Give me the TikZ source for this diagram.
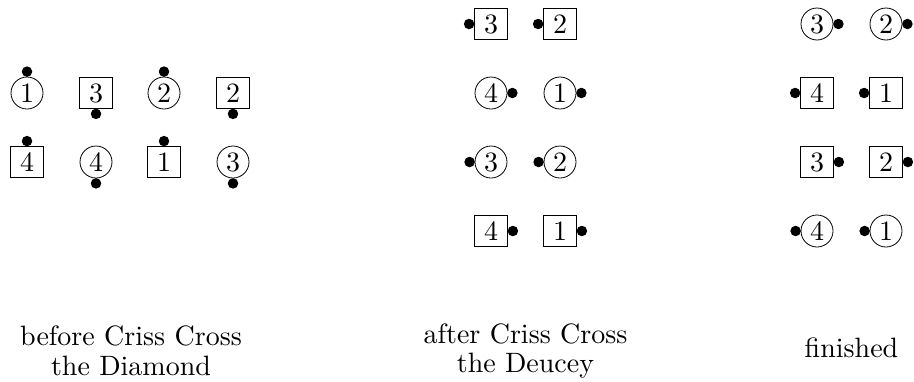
\documentclass[tikz,border=0pt]{standalone}
\usepackage{fontspec}
\setmainfont{lmroman10-regular.otf}
\begin{document}
\begin{tikzpicture}[x=1pt,y=-1pt,
  cnode/.style={circle, draw, line width=0.8pt, minimum size=32pt, inner sep=0pt, font=\fontsize{28}{34}\selectfont},
  snode/.style={rectangle, draw, line width=0.8pt, minimum width=33pt, minimum height=31pt, inner sep=0pt, font=\fontsize{28}{34}\selectfont},
  dotmark/.style={circle, fill=black, inner sep=0pt, minimum size=10.5pt},
  lbl/.style={anchor=base, inner sep=0pt, font=\fontsize{28}{34}\selectfont}]
\useasboundingbox (0,0) rectangle (914,381);
% before
\node[cnode] (L1) at (27,93) {1};
\node[snode] (L2) at (96,93) {3};
\node[cnode] (L3) at (164,93) {2};
\node[snode] (L4) at (233,93) {2};
\node[snode] (L5) at (27,162) {4};
\node[cnode] (L6) at (96,162) {4};
\node[snode] (L7) at (164,162) {1};
\node[cnode] (L8) at (233,162) {3};
\node[dotmark] (dL1) at ([yshift=5pt]L1.north) {};
\node[dotmark] (dL2) at ([yshift=-5pt]L2.south) {};
\node[dotmark] (dL3) at ([yshift=5pt]L3.north) {};
\node[dotmark] (dL4) at ([yshift=-5pt]L4.south) {};
\node[dotmark] (dL5) at ([yshift=5pt]L5.north) {};
\node[dotmark] (dL6) at ([yshift=-5pt]L6.south) {};
\node[dotmark] (dL7) at ([yshift=5pt]L7.north) {};
\node[dotmark] (dL8) at ([yshift=-5pt]L8.south) {};
% after
\node[snode] (M1) at (491,24) {3};
\node[snode] (M2) at (560,24) {2};
\node[cnode] (M3) at (491,93) {4};
\node[cnode] (M4) at (560,93) {1};
\node[cnode] (M5) at (491,162) {3};
\node[cnode] (M6) at (560,162) {2};
\node[snode] (M7) at (491,231) {4};
\node[snode] (M8) at (560,231) {1};
\node[dotmark] (dM1) at ([xshift=-5pt]M1.west) {};
\node[dotmark] (dM2) at ([xshift=-5pt]M2.west) {};
\node[dotmark] (dM3) at ([xshift=5pt]M3.east) {};
\node[dotmark] (dM4) at ([xshift=5pt]M4.east) {};
\node[dotmark] (dM5) at ([xshift=-5pt]M5.west) {};
\node[dotmark] (dM6) at ([xshift=-5pt]M6.west) {};
\node[dotmark] (dM7) at ([xshift=5pt]M7.east) {};
\node[dotmark] (dM8) at ([xshift=5pt]M8.east) {};
% finished
\node[cnode] (R1) at (817,24) {3};
\node[cnode] (R2) at (886,24) {2};
\node[snode] (R3) at (817,93) {4};
\node[snode] (R4) at (886,93) {1};
\node[snode] (R5) at (817,162) {3};
\node[snode] (R6) at (886,162) {2};
\node[cnode] (R7) at (817,231) {4};
\node[cnode] (R8) at (886,231) {1};
\node[dotmark] (dR1) at ([xshift=5pt]R1.east) {};
\node[dotmark] (dR2) at ([xshift=5pt]R2.east) {};
\node[dotmark] (dR3) at ([xshift=-5pt]R3.west) {};
\node[dotmark] (dR4) at ([xshift=-5pt]R4.west) {};
\node[dotmark] (dR5) at ([xshift=5pt]R5.east) {};
\node[dotmark] (dR6) at ([xshift=5pt]R6.east) {};
\node[dotmark] (dR7) at ([xshift=-5pt]R7.west) {};
\node[dotmark] (dR8) at ([xshift=-5pt]R8.west) {};
% labels
\node[lbl] (t1a) at (131,345) {before Criss Cross};
\node[lbl] (t1b) at (131,375) {the Diamond};
\node[lbl] (t2a) at (525.5,343) {after Criss Cross};
\node[lbl] (t2b) at (525.5,372) {the Deucey};
\node[lbl] (t3) at (851.5,357) {finished};
\end{tikzpicture}
\end{document}
